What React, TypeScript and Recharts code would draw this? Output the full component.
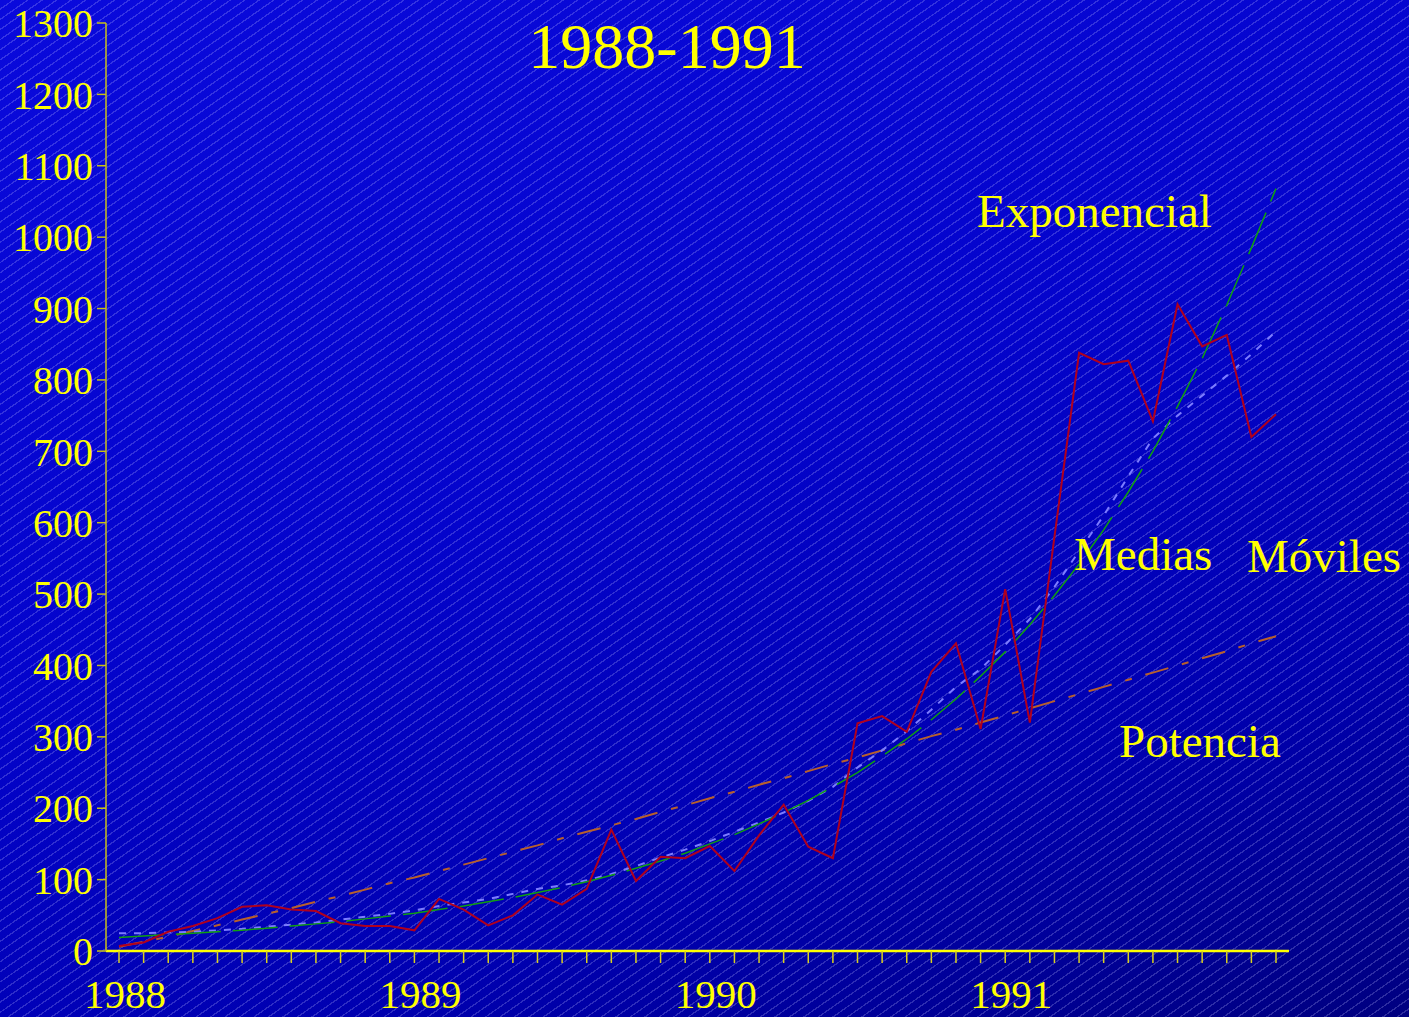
import React from 'react';
import { LineChart, Line, XAxis, YAxis } from 'recharts';

const years = ['1988', '1989', '1990', '1991'];
const monthsPerYear = 12;

const observed = [7, 12, 27, 35, 46, 62, 64, 58, 56, 39, 35, 35, 29, 73, 58, 36, 50, 79, 65, 87, 170, 98, 132, 130, 147, 112, 162, 205, 146, 130, 319, 329, 307, 391, 431, 311, 507, 320, 580, 838, 822, 827, 742, 906, 847, 863, 720, 752];
const exponencial = [19, 21, 23, 25, 27, 29, 32, 35, 38, 41, 45, 49, 53, 58, 63, 69, 75, 82, 89, 97, 106, 116, 126, 137, 150, 163, 178, 194, 211, 230, 250, 273, 297, 324, 353, 385, 419, 457, 498, 542, 590, 643, 700, 763, 830, 905, 985, 1068];
const medias = [25, 25, 26, 27, 29, 31, 34, 37, 40, 44, 48, 52, 57, 63, 68, 73, 80, 87, 92, 99, 108, 119, 131, 142, 154, 167, 180, 194, 210, 230, 257, 281, 308, 338, 370, 395, 429, 465, 510, 560, 610, 665, 718, 750, 778, 806, 836, 868];
const potencia = [6, 13, 20, 28, 36, 44, 52, 60, 69, 77, 86, 95, 103, 112, 121, 130, 139, 148, 158, 167, 176, 185, 195, 204, 214, 223, 233, 242, 252, 262, 271, 281, 291, 301, 310, 320, 330, 340, 350, 360, 370, 380, 390, 400, 410, 420, 431, 441];
const yTicks = [0, 100, 200, 300, 400, 500, 600, 700, 800, 900, 1000, 1100, 1200, 1300];

const title = '1988-1991';
const labels = [
  { text: 'Exponencial', x: 977, y: 227 },
  { text: 'Medias', x: 1074, y: 570 },
  { text: 'Móviles', x: 1247, y: 572 },
  { text: 'Potencia', x: 1119, y: 757 },
];

const data = observed.map((v, i) => ({
  cat: `${years[Math.floor(i / monthsPerYear)]}-${(i % monthsPerYear) + 1}`,
  observed: v,
  exponencial: exponencial[i],
  medias: medias[i],
  potencia: potencia[i],
}));

const fmtX = (c: string) => {
  const [y, m] = c.split('-');
  return m === '1' ? y : '';
};

const FONT = '"Liberation Serif", "Times New Roman", serif';

export default function App() {
  return (
    <div
      style={{
        position: 'absolute',
        left: 0,
        top: 0,
        width: 1409,
        height: 1017,
        overflow: 'hidden',
        background:
          'repeating-linear-gradient(145deg, rgba(255,255,255,0) 0px, rgba(255,255,255,0) 7px, rgba(190,190,255,0.24) 7px, rgba(190,190,255,0.24) 8.3px), linear-gradient(160deg, #0a0adc 0%, #0404cc 45%, #0000b0 75%, #000080 100%)',
      }}
    >
      <LineChart
        width={1409}
        height={1017}
        data={data}
        margin={{ top: 23, right: 120, bottom: 0, left: 0 }}
      >
        <XAxis
          dataKey="cat"
          interval={0}
          tickFormatter={fmtX}
          height={66}
          padding={{ left: 13, right: 13 }}
          axisLine={{ stroke: '#ffff00', strokeWidth: 2.5 }}
          tickLine={{ stroke: '#d8d020', strokeWidth: 1.5 }}
          tickSize={12}
          tickMargin={16}
          tick={{ fill: '#ffff00', fontSize: 41, fontFamily: FONT, dx: 6 }}
        />
        <YAxis
          type="number"
          domain={[0, 1300]}
          ticks={yTicks}
          width={106}
          interval={0}
          axisLine={{ stroke: '#c8c018', strokeWidth: 1.5 }}
          tickLine={{ stroke: '#c8c018', strokeWidth: 1.5 }}
          tickSize={9}
          tickMargin={4}
          tick={{ fill: '#ffff00', fontSize: 40, fontFamily: FONT }}
        />
        <Line
          type="linear"
          dataKey="potencia"
          stroke="#b8602c"
          strokeWidth={2}
          strokeDasharray="24 14 7 14"
          dot={false}
          isAnimationActive={false}
        />
        <Line
          type="linear"
          dataKey="medias"
          stroke="#7c7cff"
          strokeWidth={2}
          strokeDasharray="7 8"
          dot={false}
          isAnimationActive={false}
        />
        <Line
          type="linear"
          dataKey="exponencial"
          stroke="#10a010"
          strokeWidth={1.5}
          strokeDasharray="45 12"
          dot={false}
          isAnimationActive={false}
        />
        <Line
          type="linear"
          dataKey="observed"
          stroke="#b0001e"
          strokeWidth={2}
          dot={false}
          isAnimationActive={false}
        />
      </LineChart>
      <svg
        width={1409}
        height={1017}
        style={{ position: 'absolute', left: 0, top: 0, pointerEvents: 'none' }}
      >
        <text x={667} y={68} textAnchor="middle" fill="#ffff00" fontSize={64} fontFamily={FONT}>
          {title}
        </text>
        {labels.map((l) => (
          <text key={l.text} x={l.x} y={l.y} fill="#ffff00" fontSize={47} fontFamily={FONT}>
            {l.text}
          </text>
        ))}
      </svg>
    </div>
  );
}
